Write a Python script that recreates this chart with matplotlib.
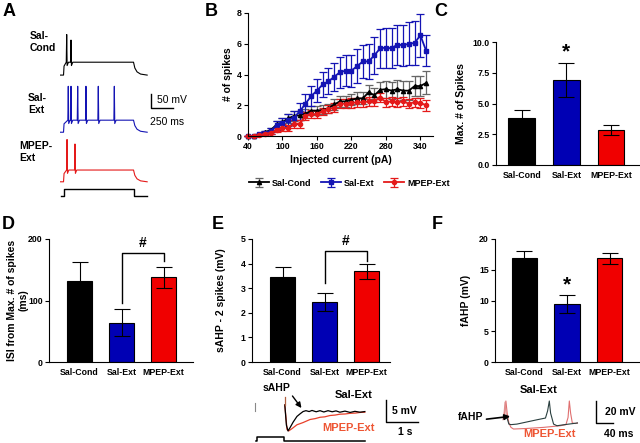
import matplotlib.pyplot as plt

plt.rcParams['font.family'] = ['Liberation Sans', 'DejaVu Sans']
plt.rcParams['font.weight'] = 'bold'
plt.rcParams['axes.labelweight'] = 'bold'
plt.rcParams['axes.linewidth'] = 0.8

W, H = 640, 443

groups = ['Sal-Cond', 'Sal-Ext', 'MPEP-Ext']
bar_colors = ['#000000', '#0000b4', '#f00000']
line_colors = ['#000000', '#1414b4', '#e41a1a']
err_colors = ['#666666', '#1414b4', '#e41a1a']

# B: spikes vs injected current
current = list(range(40, 351, 10))
spk_cond = [0, 0, 0.1, 0.25, 0.4, 0.75, 0.9, 1.15, 1.3, 1.35, 1.45, 1.65, 1.65, 1.7, 1.8, 2.05,
            2.25, 2.25, 2.35, 2.45, 2.45, 2.85, 2.65, 3.0, 3.05, 2.95, 3.05, 2.95, 2.95, 3.25, 3.25, 3.45]
spk_cond_err = [0, 0, 0.05, 0.1, 0.15, 0.25, 0.3, 0.3, 0.3, 0.3, 0.3, 0.3, 0.3, 0.3, 0.3, 0.35,
                0.35, 0.35, 0.35, 0.4, 0.4, 0.45, 0.45, 0.5, 0.55, 0.55, 0.6, 0.6, 0.6, 0.65, 0.65, 0.75]
spk_ext = [0, 0, 0.1, 0.2, 0.35, 0.7, 0.85, 1.05, 1.2, 1.6, 2.1, 2.6, 2.95, 3.35, 3.55, 3.85,
           4.15, 4.25, 4.25, 4.55, 4.85, 4.85, 5.25, 5.7, 5.75, 5.7, 5.95, 5.9, 6.0, 6.05, 6.55, 5.55]
spk_ext_err = [0, 0, 0.05, 0.1, 0.2, 0.3, 0.35, 0.4, 0.45, 0.55, 0.6, 0.65, 0.75, 0.8, 0.85, 0.9,
               1.0, 1.0, 1.05, 1.1, 1.1, 1.15, 1.2, 1.25, 1.3, 1.3, 1.3, 1.35, 1.4, 1.45, 1.4, 1.0]
spk_mpep = [0, 0, 0.05, 0.15, 0.2, 0.4, 0.55, 0.5, 0.8, 0.8, 1.3, 1.45, 1.4, 1.6, 1.75, 1.85,
            2.1, 2.1, 2.15, 2.2, 2.2, 2.25, 2.25, 2.5, 2.2, 2.25, 2.2, 2.25, 2.1, 2.2, 2.15, 2.0]
spk_mpep_err = [0, 0, 0.05, 0.1, 0.1, 0.15, 0.2, 0.2, 0.25, 0.25, 0.25, 0.25, 0.25, 0.25, 0.25, 0.3,
                0.3, 0.3, 0.3, 0.3, 0.3, 0.3, 0.3, 0.3, 0.3, 0.3, 0.3, 0.3, 0.3, 0.3, 0.3, 0.35]

# bar panels
max_spikes = [3.8, 6.9, 2.82]
max_spikes_err = [0.65, 1.38, 0.41]
isi = [132, 64, 138]
isi_err = [31, 22, 17]
sahp = [3.44, 2.44, 3.68]
sahp_err = [0.43, 0.35, 0.32]
fahp = [16.85, 9.43, 16.85]
fahp_err = [1.25, 1.4, 0.9]

# A: example traces (ms, mV relative to each baseline)
t_on, t_off, t_end = 40, 835, 990
cond_plateau, cond_spikes = 46, [(76, 145), (125, 125)]
ext_plateau, ext_spikes = 43, [(94, 164), (125, 164), (201, 164), (295, 164), (435, 164), (617, 164)]
mpep_plateau, mpep_spikes = 42, [(80, 151), (170, 135)]
offsets = [0, -204, -381]
step_t = [11, 45, 45, 840, 840, 985]
step_v = [-432, -432, -408, -408, -432, -432]

# E: sAHP traces (s, mV)
sahp_ext_t = [0.9, 0.95, 1.0, 1.06, 1.16, 1.28, 1.38, 1.47, 1.56, 1.66, 1.75, 1.88, 2.0, 2.12,
              2.25, 2.38, 2.5, 2.62, 2.78, 2.94, 3.09, 3.25, 3.4]
sahp_ext_v = [1.6, -3.0, -4.3, -3.6, -2.3, -1.0, -0.4, 0.1, 0.3, 0.1, 0.35, 0.05, 0.3, 0.0,
              0.3, 0.05, 0.25, -0.05, 0.2, -0.1, 0.15, -0.05, 0.1]
sahp_mpep_t = [0.9, 0.97, 1.02, 1.12, 1.28, 1.47, 1.69, 1.85, 2.0, 2.15, 2.31, 2.47, 2.62, 2.78,
               2.94, 3.1, 3.25, 3.4]
sahp_mpep_v = [1.6, -4.0, -4.3, -3.8, -2.9, -2.4, -1.7, -1.5, -1.2, -1.1, -0.8, -0.7, -0.5, -0.45,
               -0.3, -0.25, -0.1, -0.05]
sahp_cmd_t = [0.0, 0.03, 0.03, 0.87, 0.87, 3.4]
sahp_cmd_v = [-6.6, -6.6, -5.6, -5.6, -6.6, -6.6]

# F: fAHP traces (ms, mV)
fahp_ext_t = [-5, -2, 0, 3, 9, 14, 28, 52, 76, 95, 100, 104, 107, 114, 122, 140, 170]
fahp_ext_v = [3, 10, 19, 7, -1, -1.5, -1.0, 1.0, 3.0, 4.5, 11, 20, 9, -1, -2.5, -1.5, 0]
fahp_mpep_t = [-3, 0, 2, 5, 9, 14, 20, 50, 90, 130, 143, 148, 151, 154, 158, 165, 170]
fahp_mpep_v = [4, 12, 20, 9, 0, -4, -5.5, -5.0, -4.0, -2.5, -1.5, 5, 20, 9, 0, -0.5, 0]


def rect(l, t, r, b):
    return [l / W, 1 - b / H, (r - l) / W, (b - t) / H]


def fpos(x, y):
    return x / W, 1 - y / H


def spike_trace(base, plateau, spikes):
    t = [0, t_on, t_on + 6]
    v = [base, base, base + plateau * 0.7]
    for ts, pk in spikes:
        t += [ts - 5, ts, ts + 5, ts + 20]
        v += [base + plateau, base + pk, base + plateau - 12, base + plateau]
    t += [t_off, t_off + 15, t_off + 40, t_off + 80, t_end]
    v += [base + plateau, base + plateau * 0.55, base + plateau * 0.25, base + plateau * 0.08, base]
    return t, v


def style_axes(ax):
    for s in ['top', 'right']:
        ax.spines[s].set_visible(False)
    ax.tick_params(labelsize=6.3, length=3, width=0.8, pad=1.5)


def bar_panel(ax, vals, errs, xlim, ylim, yticks, yfmt):
    x = [0, 1, 2]
    ax.bar(x, vals, width=0.6, color=bar_colors, edgecolor='black', linewidth=0.8, zorder=2)
    ax.errorbar(x, vals, yerr=errs, fmt='none', ecolor='black', elinewidth=0.8,
                capsize=5.5, capthick=0.8, zorder=3)
    ax.set_xlim(*xlim)
    ax.set_ylim(*ylim)
    ax.set_yticks(yticks)
    ax.set_yticklabels([yfmt.format(v) for v in yticks])
    ax.set_xticks(x)
    ax.set_xticklabels(groups)
    style_axes(ax)
    ax.tick_params(axis='x', length=0, pad=4)


fig = plt.figure(figsize=(6.4, 4.43), dpi=100)

# panel letters
for letter, (x, y) in zip('ABCDEF', [(3, 3), (205, 3), (434, 3), (2, 216), (212, 216), (432, 216)]):
    fig.text(*fpos(x, y), letter, fontsize=13, fontweight='bold', va='top', ha='left')

# ---- A ----
axA = fig.add_axes(rect(60, 30, 180, 200))
axA.set_xlim(0, 1363)
axA.set_ylim(-446, 161)
axA.axis('off')
for (pl, sp), off, c in zip([(cond_plateau, cond_spikes), (ext_plateau, ext_spikes),
                             (mpep_plateau, mpep_spikes)], offsets, line_colors):
    tt, vv = spike_trace(off, pl, sp)
    axA.plot(tt, vv, color=c, lw=0.8)
axA.plot(step_t, step_v, color='black', lw=1.0)
axA.plot([1034, 1034, 1284], [-68, -118, -118], color='black', lw=1.0)
axA.text(1100, -90, '50 mV', fontsize=7.5, fontweight='normal', va='center', ha='left')
axA.text(1022, -168, '250 ms', fontsize=7.5, fontweight='normal', va='center', ha='left')
fig.text(*fpos(30, 31), 'Sal-\nCond', fontsize=7.5, va='top', ha='left', linespacing=1.2)
fig.text(*fpos(28, 93), 'Sal-\nExt', fontsize=7.5, va='top', ha='left', linespacing=1.2)
fig.text(*fpos(19, 141), 'MPEP-\nExt', fontsize=7.5, va='top', ha='left', linespacing=1.2)

# ---- B ----
axB = fig.add_axes(rect(248, 13, 433, 136))
for y, e, c, ec, m, lab in zip([spk_cond, spk_ext, spk_mpep], [spk_cond_err, spk_ext_err, spk_mpep_err],
                               line_colors, err_colors, ['^', 's', 'o'], groups):
    axB.errorbar(current, y, yerr=e, color=c, ecolor=ec, marker=m, ms=3, lw=1.3,
                 elinewidth=0.9, capsize=3, capthick=0.9, label=lab, clip_on=False)
axB.set_xlim(40, 362)
axB.set_ylim(0, 8)
axB.set_xticks([40, 100, 160, 220, 280, 340])
axB.set_yticks([0, 2, 4, 6, 8])
style_axes(axB)
axB.set_xlabel('Injected current (pA)', fontsize=7.5, labelpad=3)
axB.set_ylabel('# of spikes', fontsize=7.5, labelpad=3)
axB.legend(loc='upper left', bbox_to_anchor=(-0.04, -0.28), ncol=3, frameon=False,
           fontsize=6.5, handlelength=2.2, columnspacing=1.0, handletextpad=0.4)

# ---- C ----
axC = fig.add_axes(rect(496, 42, 639, 165))
bar_panel(axC, max_spikes, max_spikes_err, (-0.58, 2.63), (0, 10), [0, 2.5, 5.0, 7.5, 10.0], '{:.1f}')
axC.set_ylabel('Max. # of Spikes', fontsize=7.5, labelpad=5)
axC.text(1, 9.2, '*', fontsize=15, ha='center', va='center')

# ---- D ----
axD = fig.add_axes(rect(49, 239, 193, 362))
bar_panel(axD, isi, isi_err, (-0.73, 2.7), (0, 200), [0, 100, 200], '{:.0f}')
axD.set_ylabel('ISI from Max. # of spikes\n(ms)', fontsize=7.5, labelpad=0, linespacing=1.1)
axD.plot([1, 1, 2, 2], [96, 177, 177, 164], color='black', lw=1.0)
axD.text(1.5, 194, '#', fontsize=10, ha='center', va='center')

# ---- E ----
axE = fig.add_axes(rect(252, 239, 390, 362))
bar_panel(axE, sahp, sahp_err, (-0.73, 2.56), (0, 5), [0, 1, 2, 3, 4, 5], '{:.0f}')
axE.set_ylabel('sAHP - 2 spikes (mV)', fontsize=7.5, labelpad=11)
axE.plot([1, 1, 2, 2], [3.2, 4.5, 4.5, 4.1], color='black', lw=1.0)
axE.text(1.5, 4.93, '#', fontsize=10, ha='center', va='center')

# E trace
axEt = fig.add_axes(rect(250, 375, 425, 443))
axEt.set_xlim(-0.1875, 5.28)
axEt.set_ylim(-7.04, 8.4)
axEt.axis('off')
axEt.plot([-0.03, -0.03], [0.3, 2.0], color='#888888', lw=0.8)
axEt.plot(sahp_mpep_t, sahp_mpep_v, color='#e8402a', lw=0.9)
axEt.plot(sahp_ext_t, sahp_ext_v, color='black', lw=0.9)
axEt.plot([0.9, 0.9], [1.6, 3.5], color='#b06040', lw=0.9)
axEt.plot(sahp_cmd_t, sahp_cmd_v, color='black', lw=1.1)
axEt.plot([4.06, 4.06, 5.06], [2.7, -2.27, -2.27], color='black', lw=1.0)
axEt.text(4.25, 0.3, '5 mV', fontsize=7.5, ha='left', va='center')
axEt.text(4.45, -4.6, '1 s', fontsize=7.5, ha='left', va='center')
axEt.text(3.05, 3.9, 'Sal-Ext', fontsize=8, ha='center', va='center')
axEt.text(2.9, -3.7, 'MPEP-Ext', fontsize=8, ha='center', va='center', color='#ee5533')
axEt.annotate('sAHP', xy=(1.42, 0.9), xytext=(0.2, 5.4), fontsize=7.5, ha='left', va='center',
              arrowprops=dict(arrowstyle='-|>', color='black', lw=1.0, mutation_scale=8,
                              shrinkA=0, shrinkB=0, relpos=(0.95, 0.2)))

# ---- F ----
axF = fig.add_axes(rect(495, 239, 639, 362))
bar_panel(axF, fahp, fahp_err, (-0.69, 2.69), (0, 20), [0, 5, 10, 15, 20], '{:.0f}')
axF.set_ylabel('fAHP (mV)', fontsize=7.5, labelpad=6)
axF.text(1, 12.6, '*', fontsize=15, ha='center', va='center')

# F trace
axFt = fig.add_axes(rect(445, 380, 640, 443))
axFt.set_xlim(-141, 317)
axFt.set_ylim(-18.2, 39.1)
axFt.axis('off')
axFt.plot(fahp_mpep_t, fahp_mpep_v, color='#e07070', lw=0.8)
axFt.plot(fahp_ext_t[3:], fahp_ext_v[3:], color='#2a3f3f', lw=0.8)
axFt.plot(fahp_ext_t[:4], fahp_ext_v[:4], color='#e09090', lw=0.8)
axFt.plot([214, 214, 254], [20, 0, 0], color='black', lw=1.0)
axFt.text(235, 10, '20 mV', fontsize=7.5, ha='left', va='center')
axFt.text(232, -10, '40 ms', fontsize=7.5, ha='left', va='center')
axFt.text(80, 30, 'Sal-Ext', fontsize=8, ha='center', va='center')
axFt.text(105, -10, 'MPEP-Ext', fontsize=8, ha='center', va='center', color='#ee5533')
axFt.annotate('fAHP', xy=(12, 6), xytext=(-110, 5), fontsize=7.5, ha='left', va='center',
              arrowprops=dict(arrowstyle='-|>', color='black', lw=1.2, mutation_scale=8,
                              shrinkA=0, shrinkB=0, relpos=(1.0, 0.3)))

fig.savefig('out.png', dpi=100)
